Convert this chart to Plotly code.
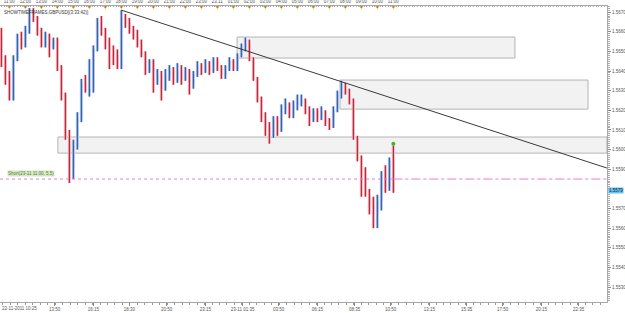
import pandas as pd
import plotly.graph_objects as go

# ---------------- data (GBPUSD, 15-min candles) ----------------
start_time = "2011-11-22 10:30"
open_ = [1.5658,1.5646,1.5638,1.5626,1.5646,1.5657,1.5653,1.5661,1.5670,1.5667,
         1.5661,1.5653,1.5658,1.5653,1.5656,1.5642,1.5628,1.5607,1.5591,1.5602,
         1.5616,1.5634,1.5630,1.5631,1.5651,1.5665,1.5661,1.5655,1.5650,1.5648,
         1.5642,1.5667,1.5665,1.5661,1.5658,1.5653,1.5648,1.5640,1.5645,1.5635,
         1.5638,1.5631,1.5638,1.5640,1.5635,1.5640,1.5636,1.5640,1.5633,1.5638,
         1.5642,1.5640,1.5643,1.5640,1.5645,1.5641,1.5638,1.5642,1.5645,1.5641,
         1.5648,1.5652,1.5654,1.5646,1.5636,1.5625,1.5616,1.5611,1.5607,1.5615,
         1.5610,1.5620,1.5623,1.5618,1.5623,1.5624,1.5625,1.5620,1.5615,1.5619,
         1.5616,1.5619,1.5614,1.5612,1.5620,1.5628,1.5633,1.5629,1.5625,1.5606,
         1.5595,1.5587,1.5577,1.5572,1.5567,1.5574,1.5588,1.5581,1.5594]
high = [1.5662,1.5648,1.5640,1.5648,1.5659,1.5660,1.5663,1.5672,1.5672,1.5668,
        1.5662,1.5660,1.5659,1.5657,1.5657,1.5643,1.5629,1.5610,1.5605,1.5619,
        1.5636,1.5638,1.5646,1.5653,1.5667,1.5668,1.5662,1.5657,1.5653,1.5651,
        1.5671,1.5669,1.5667,1.5663,1.5661,1.5656,1.5650,1.5646,1.5646,1.5641,
        1.5640,1.5641,1.5643,1.5642,1.5644,1.5643,1.5642,1.5641,1.5640,1.5645,
        1.5644,1.5646,1.5645,1.5647,1.5647,1.5643,1.5643,1.5647,1.5646,1.5649,
        1.5654,1.5657,1.5656,1.5647,1.5637,1.5627,1.5619,1.5614,1.5617,1.5617,
        1.5623,1.5626,1.5624,1.5625,1.5628,1.5628,1.5626,1.5622,1.5621,1.5621,
        1.5622,1.5620,1.5616,1.5622,1.5630,1.5635,1.5634,1.5631,1.5626,1.5607,
        1.5597,1.5591,1.5580,1.5576,1.5577,1.5589,1.5592,1.5596,1.5602]
low = [1.5642,1.5633,1.5625,1.5625,1.5645,1.5651,1.5652,1.5659,1.5665,1.5658,
       1.5652,1.5652,1.5647,1.5651,1.5640,1.5625,1.5605,1.5583,1.5585,1.5600,
       1.5614,1.5629,1.5627,1.5629,1.5650,1.5658,1.5651,1.5641,1.5643,1.5641,
       1.5641,1.5662,1.5659,1.5656,1.5652,1.5647,1.5638,1.5639,1.5629,1.5633,
       1.5625,1.5630,1.5635,1.5633,1.5634,1.5633,1.5635,1.5628,1.5631,1.5637,
       1.5638,1.5639,1.5638,1.5639,1.5640,1.5636,1.5636,1.5640,1.5640,1.5640,
       1.5647,1.5650,1.5645,1.5635,1.5624,1.5614,1.5607,1.5603,1.5606,1.5607,
       1.5609,1.5618,1.5616,1.5616,1.5620,1.5622,1.5618,1.5612,1.5614,1.5614,
       1.5615,1.5612,1.5610,1.5611,1.5619,1.5626,1.5628,1.5623,1.5605,1.5594,
       1.5576,1.5576,1.5567,1.5560,1.5560,1.5569,1.5578,1.5579,1.5578]
close = [1.5646,1.5638,1.5626,1.5646,1.5657,1.5653,1.5661,1.5670,1.5667,1.5661,
         1.5653,1.5658,1.5653,1.5656,1.5642,1.5628,1.5607,1.5591,1.5602,1.5616,
         1.5634,1.5630,1.5631,1.5651,1.5665,1.5661,1.5655,1.5650,1.5648,1.5642,
         1.5667,1.5665,1.5661,1.5658,1.5653,1.5648,1.5640,1.5645,1.5635,1.5638,
         1.5631,1.5638,1.5640,1.5635,1.5640,1.5636,1.5640,1.5633,1.5638,1.5642,
         1.5640,1.5643,1.5640,1.5645,1.5641,1.5638,1.5642,1.5645,1.5641,1.5648,
         1.5652,1.5654,1.5646,1.5636,1.5625,1.5616,1.5611,1.5607,1.5615,1.5610,
         1.5620,1.5623,1.5618,1.5623,1.5624,1.5625,1.5620,1.5615,1.5619,1.5616,
         1.5619,1.5614,1.5612,1.5620,1.5628,1.5633,1.5629,1.5625,1.5606,1.5595,
         1.5587,1.5577,1.5572,1.5567,1.5574,1.5588,1.5581,1.5594,1.5579]

# right price axis ticks
price_ticks = [1.5530,1.5540,1.5550,1.5560,1.5570,1.5580,1.5590,1.5600,
               1.5610,1.5620,1.5630,1.5640,1.5650,1.5660,1.5670]
last_price_label = "1.5579"

# top time ruler (hourly)
top_tick_times = ["2011-11-22 11:00","2011-11-22 12:00","2011-11-22 13:00","2011-11-22 14:00",
                  "2011-11-22 15:00","2011-11-22 16:00","2011-11-22 17:00","2011-11-22 18:00",
                  "2011-11-22 19:00","2011-11-22 20:00","2011-11-22 21:00","2011-11-22 22:00",
                  "2011-11-22 23:00","2011-11-23 00:00","2011-11-23 01:00","2011-11-23 02:00",
                  "2011-11-23 03:00","2011-11-23 04:00","2011-11-23 05:00","2011-11-23 06:00",
                  "2011-11-23 07:00","2011-11-23 08:00","2011-11-23 09:00","2011-11-23 10:00",
                  "2011-11-23 11:00"]
top_tick_text = ["11:00","12:00","13:00","14:00","15:00","16:00","17:00","18:00","19:00",
                 "20:00","21:00","22:00","23:00","23.11","01:00","02:00","03:00","04:00",
                 "05:00","06:00","07:00","08:00","09:00","10:00","11:00"]

# bottom time axis
bottom_first_label = "22-11-2011 10:25"
bottom_tick_times = ["2011-11-22 13:50","2011-11-22 16:15","2011-11-22 18:30","2011-11-22 20:50",
                     "2011-11-22 23:15","2011-11-23 01:35","2011-11-23 03:50","2011-11-23 06:15",
                     "2011-11-23 08:35","2011-11-23 10:50","2011-11-23 13:15","2011-11-23 15:35",
                     "2011-11-23 17:50","2011-11-23 20:15","2011-11-23 22:35"]
bottom_tick_text = ["13:50","16:15","18:30","20:50","23:15","23-11 01:35","03:50","06:15",
                    "08:35","10:50","13:15","15:35","17:50","20:15","22:35"]

# zones (time start, time end, price low, price high)
zone_t0 = ["2011-11-23 01:14", "2011-11-23 07:40", "2011-11-22 14:02"]
zone_t1 = ["2011-11-23 18:36", "2011-11-23 23:10", "2011-11-24 00:21"]
zone_lo = [1.56466, 1.56206, 1.55982]
zone_hi = [1.56573, 1.56354, 1.56064]

# trend line
trend_t = ["2011-11-22 18:00", "2011-11-24 00:21"]
trend_p = [1.5671, 1.55906]

# signal
short_level = 1.5585
short_label = "Short(23-11 11:00, 5,5)"
signal_price = 1.5603
indicator_title = "SHOWTIMEFRAMES,GBPUSD[(3:33:42)]"

x_range = ["2011-11-22 10:25", "2011-11-24 00:21:15"]
y_range = [1.55224, 1.56731]

# ---------------- build ----------------
times = pd.date_range(start_time, periods=len(close), freq="15min")

FONT = "Liberation Sans"
UP_D, DN_D = "#1d4f9e", "#b0101e"
UP_L, DN_L = "#b3c6e8", "#efb8c3"
spacing_ms = 15 * 60 * 1000

up = [c >= o for o, c in zip(open_, close)]
base = [min(o, c) for o, c in zip(open_, close)]
body = [max(abs(c - o), 0.00003) for o, c in zip(open_, close)]

fig = go.Figure()

def wick_xy(mask):
    xs, ys = [], []
    for t, h, l, m in zip(times, high, low, mask):
        if m:
            xs += [t, t, None]
            ys += [l, h, None]
    return xs, ys

# light halo candles
for mask, col in [(up, UP_L), ([not u for u in up], DN_L)]:
    xs, ys = wick_xy(mask)
    fig.add_trace(go.Scatter(x=xs, y=ys, mode="lines", line=dict(color=col, width=3),
                             hoverinfo="skip", showlegend=False))
fig.add_trace(go.Bar(x=times, y=body, base=base, width=spacing_ms * 0.9,
                     marker=dict(color=[UP_L if u else DN_L for u in up], line_width=0),
                     showlegend=False, hoverinfo="skip"))
# dark candles
for mask, col in [(up, UP_D), ([not u for u in up], DN_D)]:
    xs, ys = wick_xy(mask)
    fig.add_trace(go.Scatter(x=xs, y=ys, mode="lines", line=dict(color=col, width=1),
                             hoverinfo="skip", showlegend=False))
fig.add_trace(go.Bar(x=times, y=body, base=base, width=spacing_ms * 0.45,
                     marker=dict(color=[UP_D if u else DN_D for u in up], line_width=0),
                     showlegend=False, hoverinfo="skip"))

# orange hour markers on the top ruler
fig.add_trace(go.Scatter(x=pd.to_datetime(top_tick_times), y=[y_range[1] - 0.00005] * len(top_tick_times),
                         mode="markers", marker=dict(symbol="triangle-down", size=4, color="#e8a317"),
                         xaxis="x2", hoverinfo="skip", showlegend=False))
# signal arrow
fig.add_trace(go.Scatter(x=[times[-1]], y=[signal_price], mode="markers",
                         marker=dict(symbol="circle", size=4, color="#4caf2a"),
                         hoverinfo="skip", showlegend=False))

shapes = []
for t0, t1, lo, hi in zip(zone_t0, zone_t1, zone_lo, zone_hi):
    shapes.append(dict(type="rect", x0=t0, x1=t1, y0=lo, y1=hi, layer="below",
                       fillcolor="#f2f2f2", line=dict(color="#b4b4b4", width=1)))
shapes.append(dict(type="line", x0=trend_t[0], x1=trend_t[1], y0=trend_p[0], y1=trend_p[1],
                   line=dict(color="#3a3a3a", width=1)))
shapes.append(dict(type="line", x0=x_range[0], x1=times[-1], y0=short_level, y1=short_level,
                   line=dict(color="#e07ee0", width=1, dash="dot")))
shapes.append(dict(type="line", x0=times[-1], x1=x_range[1], y0=short_level, y1=short_level,
                   line=dict(color="#e07ee0", width=1, dash="dashdot")))

ann = [
    dict(x=x_range[0], y=0, xref="x", yref="paper", xanchor="left", yanchor="top", yshift=-2,
         text=bottom_first_label, showarrow=False, font=dict(family=FONT, size=4.5, color="#555")),
    dict(x=0.004, y=0.978, xref="paper", yref="paper", xanchor="left", yanchor="middle",
         text=indicator_title, showarrow=False, font=dict(family=FONT, size=4.5, color="#333")),
    dict(x=1, y=float(last_price_label), xref="paper", yref="y", xanchor="left", yanchor="middle",
         xshift=1, text=last_price_label, showarrow=False, bgcolor="#66c2ee", borderpad=0,
         font=dict(family=FONT, size=4.5, color="#0a2a40")),
    dict(x="2011-11-22 10:51", y=short_level + 0.00028, xref="x", yref="y", xanchor="left",
         yanchor="middle", text=short_label, showarrow=False, bgcolor="#d6ebc3", borderpad=0,
         font=dict(family=FONT, size=4.5, color="#5c7a3c")),
]

fig.update_layout(
    width=625, height=313, margin=dict(l=0, r=18, t=6, b=11),
    paper_bgcolor="white", plot_bgcolor="white", bargap=0, barmode="overlay",
    shapes=shapes, annotations=ann, showlegend=False,
    xaxis=dict(type="date", range=x_range, showgrid=False, zeroline=False,
               showline=True, linecolor="#a8a8a8", linewidth=1,
               tickvals=pd.to_datetime(bottom_tick_times), ticktext=bottom_tick_text,
               ticks="outside", ticklen=3, tickcolor="#888",
               minor=dict(ticks="outside", ticklen=1.5, dtick=28 * 60 * 1000, tickcolor="#999"),
               tickfont=dict(family=FONT, size=4.5, color="#555"), rangeslider=dict(visible=False)),
    xaxis2=dict(type="date", range=x_range, overlaying="x", side="top", anchor="y",
                showgrid=False, zeroline=False, showline=True, linecolor="#a8a8a8",
                tickvals=pd.to_datetime(top_tick_times), ticktext=top_tick_text,
                ticks="inside", ticklen=2, tickcolor="#888",
                minor=dict(ticks="inside", ticklen=1, dtick=10 * 60 * 1000, tickcolor="#aaa"),
                tickfont=dict(family=FONT, size=4.5, color="#555")),
    yaxis=dict(range=y_range, side="right", showgrid=False, zeroline=False,
               showline=True, linecolor="#a8a8a8", linewidth=1,
               tickvals=price_ticks,
               ticktext=["" if abs(v - 1.5580) < 1e-9 else f"{v:.4f}" for v in price_ticks],
               ticks="outside", ticklen=3, tickcolor="#888",
               minor=dict(ticks="outside", ticklen=1.5, dtick=0.0001, tickcolor="#aaa"),
               tickfont=dict(family=FONT, size=4.5, color="#555")),
)

fig.write_html("out.html")
